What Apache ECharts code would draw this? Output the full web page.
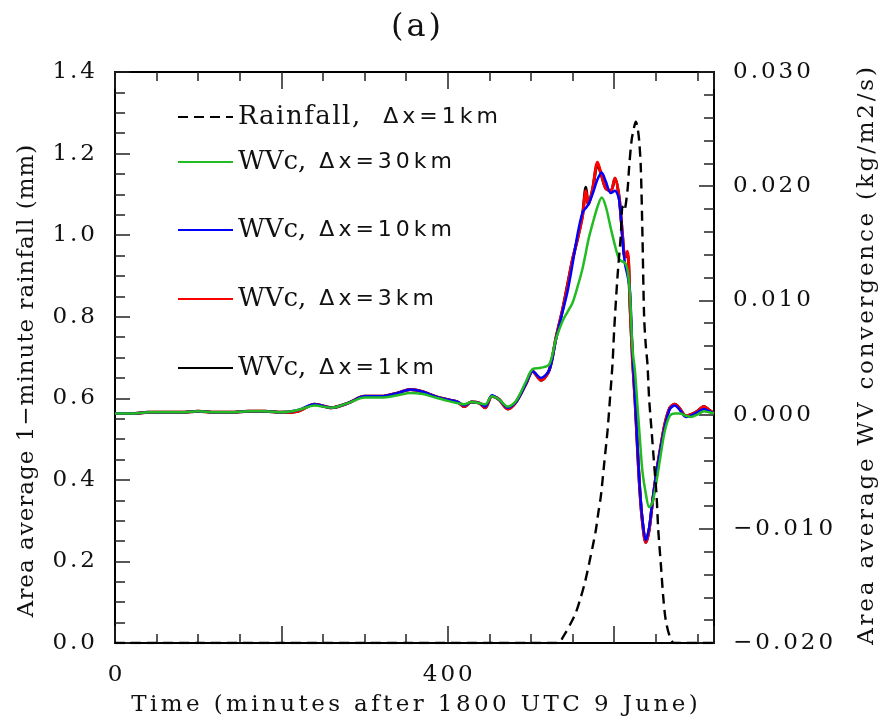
<!DOCTYPE html>
<html><head><meta charset="utf-8">
<script src="https://cdn.jsdelivr.net/npm/echarts@6/dist/echarts.min.js"></script>
<style>html,body{margin:0;padding:0;background:#fff}#c{width:882px;height:725px}</style>
</head><body><div id="c"></div>
<script>
// ---- data (minutes after 1800 UTC 9 June) ----
const rainTime = [0, 100, 200, 300, 400, 500, 532, 540, 548, 554, 560, 565, 570, 574, 578, 581, 584, 588, 592, 595, 598, 600, 604, 608, 610, 612, 616, 618, 621, 624, 626, 628, 630, 632, 634, 636, 638, 640, 642, 645, 648, 651, 653, 656, 659, 662, 667, 672, 680, 720];
const rainfall1km = [0, 0, 0, 0, 0, 0, 0, 0.02, 0.049, 0.075, 0.113, 0.15, 0.196, 0.235, 0.277, 0.32, 0.36, 0.44, 0.52, 0.60, 0.684, 0.767, 0.898, 1.0, 1.07, 1.06, 1.11, 1.167, 1.233, 1.265, 1.278, 1.265, 1.233, 1.167, 1.0, 0.80, 0.73, 0.684, 0.60, 0.52, 0.44, 0.36, 0.277, 0.196, 0.113, 0.056, 0.015, 0, 0, 0];

const wvTime = [0, 20, 40, 60, 80, 100, 120, 140, 160, 180, 200, 220, 240, 260, 280, 300, 320, 340, 355, 370, 385, 400, 412, 420, 428, 438, 445, 453, 462, 472, 482, 494, 502, 512, 522, 530, 538, 544, 550, 556, 562, 566, 569, 574, 580, 585, 590, 596, 601, 606, 610, 613, 616, 619, 622, 625, 628, 631, 634, 638, 642, 646, 651, 656, 661, 667, 673, 679, 686, 692, 700, 708, 714, 720];
const wvc1km = [0.0001, 0.0001, 0.0002, 0.0002, 0.0002, 0.0003, 0.0002, 0.0002, 0.0003, 0.0003, 0.0002, 0.0003, 0.0009, 0.0006, 0.0010, 0.0016, 0.0016, 0.0019, 0.0022, 0.0020, 0.0016, 0.0013, 0.0011, 0.0007, 0.0011, 0.0010, 0.0006, 0.0016, 0.0013, 0.0005, 0.0011, 0.0027, 0.0038, 0.0030, 0.0039,
  0.0067, 0.0092, 0.0114, 0.0136, 0.0154, 0.0175, 0.0199, 0.0184, 0.0197, 0.0219, 0.0209, 0.0198, 0.0196, 0.0207, 0.0190, 0.0157, 0.0138, 0.0141, 0.0097, 0.0049, 0.0014, -0.0029, -0.0068, -0.0094, -0.0112, -0.0101, -0.0077, -0.0050, -0.0028, -0.0008, 0.0006, 0.0009, 0.0005, -0.0001, 0.0000, 0.0003, 0.0007, 0.0004, 0.0001];
const wvc3km = [0.0001, 0.0001, 0.0002, 0.0002, 0.0002, 0.0003, 0.0002, 0.0002, 0.0003, 0.0003, 0.0002, 0.0003, 0.0009, 0.0006, 0.0010, 0.0016, 0.0016, 0.0019, 0.0022, 0.0020, 0.0016, 0.0013, 0.0011, 0.0007, 0.0011, 0.0010, 0.0006, 0.0016, 0.0013, 0.0005, 0.0011, 0.0027, 0.0038, 0.0030, 0.0039,
  0.0067, 0.0092, 0.0113, 0.0136, 0.0154, 0.0174, 0.0196, 0.0184, 0.0197, 0.0221, 0.0209, 0.0198, 0.0196, 0.0207, 0.0190, 0.0157, 0.0138, 0.0143, 0.0097, 0.0049, 0.0014, -0.0029, -0.0068, -0.0094, -0.0112, -0.0101, -0.0077, -0.0050, -0.0028, -0.0008, 0.0006, 0.0009, 0.0005, -0.0001, 0.0000, 0.0003, 0.0007, 0.0004, 0.0001];
const wvc10km = [0.0001, 0.0001, 0.0002, 0.0002, 0.0002, 0.0003, 0.0002, 0.0002, 0.0003, 0.0003, 0.0002, 0.0004, 0.0009, 0.0006, 0.0010, 0.0016, 0.0016, 0.0019, 0.0022, 0.0020, 0.0016, 0.0013, 0.0011, 0.0008, 0.0011, 0.0010, 0.0007, 0.0017, 0.0013, 0.0006, 0.0011, 0.0027, 0.0038, 0.0032, 0.0039,
  0.0066, 0.0090, 0.0108, 0.0132, 0.0158, 0.0177, 0.0181, 0.0184, 0.0193, 0.0206, 0.0212, 0.0204, 0.0194, 0.0196, 0.0188, 0.0153, 0.0132, 0.0122, 0.0108, 0.0055, 0.0016, -0.0028, -0.0066, -0.0092, -0.0110, -0.0099, -0.0076, -0.0050, -0.0029, -0.0010, 0.0005, 0.0008, 0.0004, -0.0002, -0.0001, 0.0002, 0.0005, 0.0003, 0.0001];
const wvc30km = [0.0001, 0.0001, 0.0002, 0.0002, 0.0002, 0.0003, 0.0002, 0.0002, 0.0003, 0.0003, 0.0002, 0.0004, 0.0008, 0.0006, 0.0010, 0.0015, 0.0015, 0.0017, 0.0019, 0.0018, 0.0015, 0.0012, 0.0010, 0.0009, 0.0011, 0.0010, 0.0009, 0.0016, 0.0013, 0.0007, 0.0012, 0.0029, 0.0040, 0.0041, 0.0044,
  0.0066, 0.0082, 0.0090, 0.0098, 0.0112, 0.0128, 0.0142, 0.0153, 0.0167, 0.0182, 0.0190, 0.0182, 0.0163, 0.0148, 0.0136, 0.0134, 0.0133, 0.0127, 0.0105, 0.0058, 0.0038, 0.0008, -0.0022, -0.0050, -0.0069, -0.0081, -0.0077, -0.0058, -0.0035, -0.0014, -0.0001, 0.0001, 0.0001, -0.0001, -0.0002, 0.0000, 0.0003, 0.0002, 0.0001];

const seriesNames = ['Rainfall, Δx=1km', 'WVc, Δx=30km', 'WVc, Δx=10km', 'WVc, Δx=3km', 'WVc, Δx=1km'];
const xTickLabels = [0, 400];

// ---- chart ----
const SERIF = 'DejaVu Serif';
const SANS = 'DejaVu Sans';
const INK = '#111';
const pairs = (xs, ys) => xs.map((x, i) => [x, ys[i]]);
// rich-text markup that spaces characters apart (the original font is wide)
const spaced = (str, first, rest) => str.split('').map((ch, i) => '{' + (i ? rest : first) + '|' + ch + '}').join('');
const spacedRich = (size, gap, family) => ({
  f: { fontFamily: family || SERIF, fontSize: size, color: INK },
  g: { fontFamily: family || SERIF, fontSize: size, color: INK, padding: [0, 0, 0, gap] }
});

const chart = echarts.init(document.getElementById('c'), null, { renderer: 'canvas' });

const axisLineStyle = { lineStyle: { color: '#000', width: 2 } };
const tickStyle = { lineStyle: { color: '#222', width: 1.5 } };

function xAx(pos, labels) {
  return {
    type: 'value', position: pos, min: 0, max: 720, interval: 200,
    axisLine: { show: true, ...axisLineStyle, onZero: false },
    axisTick: { show: true, inside: true, length: 17, ...tickStyle },
    minorTick: { show: true, splitNumber: 4, length: 9, ...tickStyle },
    splitLine: { show: false }, minorSplitLine: { show: false },
    axisLabel: labels ? {
      show: true, margin: 21, color: INK, fontFamily: SERIF, fontSize: 23,
      formatter: v => xTickLabels.includes(v) ? spaced(String(v), 'f', 'g') : '',
      rich: spacedRich(23, 3)
    } : { show: false },
    name: labels ? spaced('Time (minutes after 1800 UTC 9 June)', 'f', 'g') : '',
    nameLocation: 'middle', nameGap: 51,
    nameTextStyle: { color: INK, fontFamily: SERIF, fontSize: 23, rich: spacedRich(23, 3.4) }
  };
}

function legendFor(name, centerY, serifGap, sansLead) {
  return {
    data: [name], left: 177, top: centerY - 14, padding: 0, itemGap: 0,
    itemWidth: 55, itemHeight: 14, selectedMode: false,
    itemStyle: { opacity: 0 },
    formatter: n => {
      const p = n.split(', ');
      return spaced(p[0] + ',', 's0', 's') + spaced(p[1], 'd0', 'd');
    },
    textStyle: {
      rich: {
        s0: { fontFamily: SERIF, fontSize: 26, color: INK, lineHeight: 28 },
        s: { fontFamily: SERIF, fontSize: 26, color: INK, lineHeight: 28, padding: [0, 0, 0, serifGap] },
        d0: { fontFamily: SANS, fontSize: 22, color: INK, lineHeight: 28, padding: [0, 0, 0, sansLead] },
        d: { fontFamily: SANS, fontSize: 22, color: INK, lineHeight: 28, padding: [0, 0, 0, 4] }
      }
    }
  };
}

const option = {
  animation: false,
  backgroundColor: '#fff',
  title: {
    text: spaced('(a)', 'f', 'g'), left: 386, top: 7,
    textStyle: { fontFamily: SERIF, fontSize: 32, fontWeight: 'normal', color: INK, rich: spacedRich(32, 3) }
  },
  grid: { left: 115, right: 168, top: 72, bottom: 82, containLabel: false },
  xAxis: [xAx('bottom', true), xAx('top', false)],
  yAxis: [
    {
      type: 'value', position: 'left', min: 0, max: 1.4, interval: 0.2,
      axisLine: { show: true, ...axisLineStyle, onZero: false },
      axisTick: { show: true, inside: true, length: 15, ...tickStyle },
      minorTick: { show: true, splitNumber: 4, length: 10, ...tickStyle },
      splitLine: { show: false }, minorSplitLine: { show: false },
      axisLabel: { margin: 20, color: INK, fontFamily: SERIF, fontSize: 23,
        formatter: v => spaced(v.toFixed(1), 'f', 'g'), rich: spacedRich(23, 3) }
    },
    {
      type: 'value', position: 'right', min: -0.02, max: 0.03, interval: 0.01,
      axisLine: { show: true, ...axisLineStyle, onZero: false },
      axisTick: { show: true, inside: true, length: 15, ...tickStyle },
      minorTick: { show: true, splitNumber: 5, length: 10, ...tickStyle },
      splitLine: { show: false }, minorSplitLine: { show: false },
      axisLabel: { margin: 19, color: INK, fontFamily: SERIF, fontSize: 23,
        formatter: v => spaced((v < -1e-9 ? '\u2212' : '') + Math.abs(v).toFixed(3), 'f', 'g'),
        rich: spacedRich(23, 3) }
    }
  ],
  legend: [
    legendFor(seriesNames[0], 118, 1.5, 23),
    legendFor(seriesNames[1], 163, 0, 13),
    legendFor(seriesNames[2], 231, 0, 13),
    legendFor(seriesNames[3], 300, 0, 13),
    legendFor(seriesNames[4], 369, 0, 13)
  ],
  graphic: [
    { type: 'text', x: 27, y: 381, rotation: Math.PI / 2,
      style: { text: spaced('Area average 1\u2212minute rainfall (mm)', 'f', 'g'), rich: spacedRich(23, 1),
        fontFamily: SERIF, fontSize: 23, fill: INK, align: 'center', verticalAlign: 'middle' } },
    { type: 'text', x: 867, y: 356, rotation: Math.PI / 2,
      style: { text: spaced('Area average WV convergence (kg/m2/s)', 'f', 'g'), rich: spacedRich(23, 2.8),
        fontFamily: SERIF, fontSize: 23, fill: INK, align: 'center', verticalAlign: 'middle' } }
  ],
  series: [
    { name: seriesNames[4], type: 'line', yAxisIndex: 1, showSymbol: false, symbol: 'none', smooth: 0.3,
      data: pairs(wvTime, wvc1km), lineStyle: { color: '#000', width: 3 }, itemStyle: { color: '#000' }, z: 2 },
    { name: seriesNames[3], type: 'line', yAxisIndex: 1, showSymbol: false, symbol: 'none', smooth: 0.3,
      data: pairs(wvTime, wvc3km), lineStyle: { color: '#ff0000', width: 3 }, itemStyle: { color: '#ff0000' }, z: 3 },
    { name: seriesNames[2], type: 'line', yAxisIndex: 1, showSymbol: false, symbol: 'none', smooth: 0.3,
      data: pairs(wvTime, wvc10km), lineStyle: { color: '#0000ff', width: 2.5 }, itemStyle: { color: '#0000ff' }, z: 4 },
    { name: seriesNames[1], type: 'line', yAxisIndex: 1, showSymbol: false, symbol: 'none', smooth: 0.3,
      data: pairs(wvTime, wvc30km), lineStyle: { color: '#22bb22', width: 2.5 }, itemStyle: { color: '#22bb22' }, z: 5 },
    { name: seriesNames[0], type: 'line', yAxisIndex: 0, showSymbol: false, symbol: 'none', smooth: 0.3,
      data: pairs(rainTime, rainfall1km), lineStyle: { color: '#000', width: 2.4, type: [10, 6] }, itemStyle: { color: '#000' }, z: 6 }
  ]
};
chart.setOption(option);
</script>
</body></html>
